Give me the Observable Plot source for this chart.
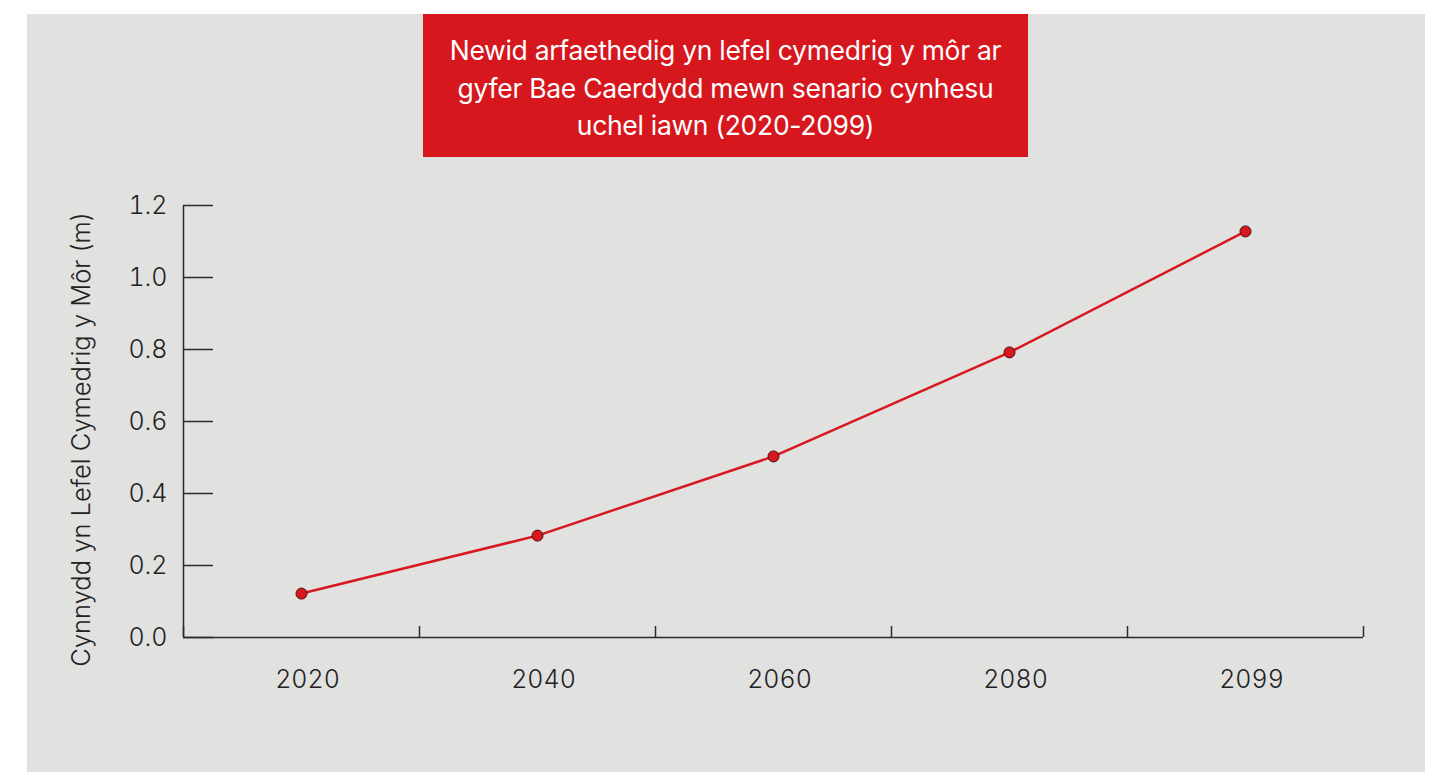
<!DOCTYPE html>
<html><head><meta charset="utf-8">
<script src="https://cdn.jsdelivr.net/npm/d3@7"></script>
<script src="https://cdn.jsdelivr.net/npm/@observablehq/plot@0.6"></script>
<style>
body{margin:0;background:#fff;width:1430px;height:772px;position:relative;overflow:hidden;font-family:Inter, sans-serif;}
#panel{position:absolute;left:27px;top:14px;width:1398px;height:758px;background:#e1e1e0;}
#title{position:absolute;left:423px;top:14px;width:605px;height:143px;background:#d6171e;color:#fff;font-size:26.5px;line-height:37.5px;text-align:center;box-sizing:border-box;padding-top:18px;font-weight:400;letter-spacing:-0.3px;}
#chart{position:absolute;left:0;top:157px;}
</style></head><body>
<div id="panel"></div>
<div id="title">Newid arfaethedig yn lefel cymedrig y môr ar<br>gyfer Bae Caerdydd mewn senario cynhesu<br>uchel iawn (2020-2099)</div>
<div id="chart"></div>
<script>
const years = ["2020", "2040", "2060", "2080", "2099"];
const rise = [0.122, 0.283, 0.503, 0.792, 1.128];
const yTicks = [0, 0.2, 0.4, 0.6, 0.8, 1.0, 1.2];
const yLabel = "Cynnydd yn Lefel Cymedrig y Môr (m)";

const data = years.map((year, i) => ({year, pos: i + 0.5, value: rise[i]}));
const boundaries = d3.range(years.length + 1);
const axisColor = "#2b2b2b";

const chart = Plot.plot({
  width: 1430, height: 615,
  marginTop: 48, marginBottom: 135, marginLeft: 183, marginRight: 67,
  style: {background: "transparent", fontFamily: "Inter, sans-serif", fontSize: "25px", color: "#222"},
  x: {type: "linear", domain: [0, years.length]},
  y: {domain: [0, 1.2]},
  marks: [
    Plot.axisY(yTicks, {tickSize: 0, tickPadding: 16, tickFormat: d => d.toFixed(1), label: null, fontWeight: 300}),
    Plot.tickY(yTicks, {y: d => d, stroke: axisColor, strokeWidth: 1.5, insetRight: 1150}),
    Plot.axisX(data.map(d => d.pos), {tickSize: 0, tickPadding: 33, tickFormat: d => years[Math.floor(d)], label: null, fontWeight: 300, dx: 6}),
    Plot.ruleX(boundaries, {stroke: axisColor, strokeWidth: 1.5, insetTop: 421}),
    Plot.ruleX([0], {stroke: axisColor, strokeWidth: 1.5}),
    Plot.ruleY([0], {stroke: axisColor, strokeWidth: 1.5}),
    Plot.line(data, {x: "pos", y: "value", stroke: "#d7191f", strokeWidth: 2.5}),
    Plot.dot(data, {x: "pos", y: "value", r: 5.5, fill: "#d7191f", stroke: "#4a0a0a", strokeWidth: 1}),
    Plot.text([yLabel], {text: d => d, frameAnchor: "left", textAnchor: "middle", rotate: -90, dx: -102, dy: 18, fontSize: 25.5, fontWeight: 300, fill: "#222"})
  ]
});
document.getElementById("chart").appendChild(chart);
</script>
</body></html>
